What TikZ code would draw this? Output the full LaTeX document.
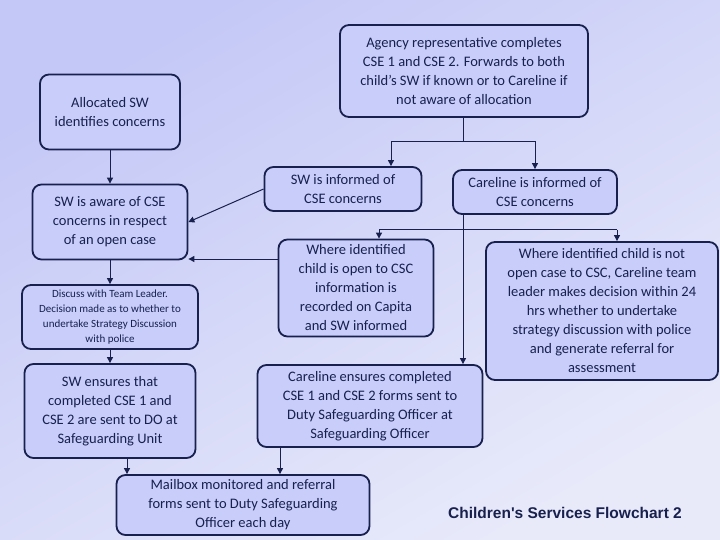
\documentclass[tikz,border=0pt]{standalone}
\usepackage{fontspec}
\setmainfont{Carlito}
\newfontfamily\titlefont{Liberation Sans}
\usetikzlibrary{arrows.meta}
\definecolor{bgtop}{RGB}{196,200,246}
\definecolor{bgbot}{RGB}{232,234,250}
\definecolor{boxfill}{RGB}{200,205,250}
\definecolor{navy}{RGB}{24,32,78}
\tikzset{
  box/.style={draw=navy, line width=1.8pt, fill=boxfill, rounded corners=9pt, align=center, text=navy, font=\fontsize{14.5}{19}\selectfont, inner sep=2pt},
  conn/.style={draw=navy, line width=1pt},
  arr/.style={conn, -{Triangle[length=6pt,width=6pt]}}
}
\begin{document}
\begin{tikzpicture}[x=1pt,y=-1pt]
\useasboundingbox (0,0) rectangle (720,540);
\shade[top color=bgtop, bottom color=bgbot, shading angle=30] (0,0) rectangle (720,540);
\node[box, minimum width=248pt, minimum height=92pt] (agency) at (464,71) {Agency representative completes\\CSE 1 and CSE 2. Forwards to both\\child's SW if known or to Careline if\\not aware of allocation};
\node[box, minimum width=140pt, minimum height=75pt] (alloc) at (110,112) {Allocated SW\\identifies concerns};
\node[box, minimum width=155pt, minimum height=75pt] (aware) at (110,222) {SW is aware of CSE\\concerns in respect\\of an open case};
\node[box, minimum width=176pt, minimum height=64pt, font=\fontsize{11}{15}\selectfont] (discuss) at (110,317) {Discuss with Team Leader.\\Decision made as to whether to\\undertake Strategy Discussion\\with police};
\node[box, minimum width=171pt, minimum height=94pt] (ensures) at (110,411) {SW ensures that\\completed CSE 1 and\\CSE 2 are sent to DO at\\Safeguarding Unit};
\node[box, minimum width=157pt, minimum height=44pt] (swinf) at (343,189) {SW is informed of\\CSE concerns};
\node[box, minimum width=164pt, minimum height=44pt] (carinf) at (535,192) {Careline is informed of\\CSE concerns};
\node[box, minimum width=155pt, minimum height=97pt] (open) at (356,288) {Where identified\\child is open to CSC\\information is\\recorded on Capita\\and SW informed};
\node[box, minimum width=232pt, minimum height=138pt] (notopen) at (602,311) {Where identified child is not\\open case to CSC, Careline team\\leader makes decision within 24\\hrs whether to undertake\\strategy discussion with police\\and generate referral for\\assessment};
\node[box, minimum width=225pt, minimum height=82pt] (carens) at (370,406) {Careline ensures completed\\CSE 1 and CSE 2 forms sent to\\Duty Safeguarding Officer at\\Safeguarding Officer};
\node[box, minimum width=253pt, minimum height=60pt] (mail) at (243,505) {Mailbox monitored and referral\\forms sent to Duty Safeguarding\\Officer each day};
\node[font=\titlefont\bfseries\fontsize{15.5}{18}\selectfont, text=navy] (title) at (565,513) {Children's Services Flowchart 2};
% connectors
\coordinate (j1) at (463,142);
\draw[conn] (agency.south -| j1) -- (j1);
\draw[arr] (j1) -| (swinf.north -| 391,0);
\draw[arr] (j1) -| (carinf.north -| 535,0);
\draw[arr] (alloc) -- (aware);
\draw[arr] (swinf.west) -- (aware.east);
\draw[arr] (open.west |- 0,259) -- (aware.east |- 0,259);
\draw[arr] (aware) -- (discuss);
\draw[arr] (discuss) -- (ensures);
\draw[arr] (carinf.south -| 463,0) -- (carens.north -| 463,0);
\coordinate (j2) at (617,230);
\draw[conn] (379,230) -- (j2);
\draw[arr] (379,230) -- (open.north -| 379,0);
\draw[arr] (j2) -- (notopen.north -| j2);
\draw[arr] (ensures.south -| 127,0) -- (mail.north -| 127,0);
\draw[arr] (carens.south -| 280,0) -- (mail.north -| 280,0);
\end{tikzpicture}
\end{document}
